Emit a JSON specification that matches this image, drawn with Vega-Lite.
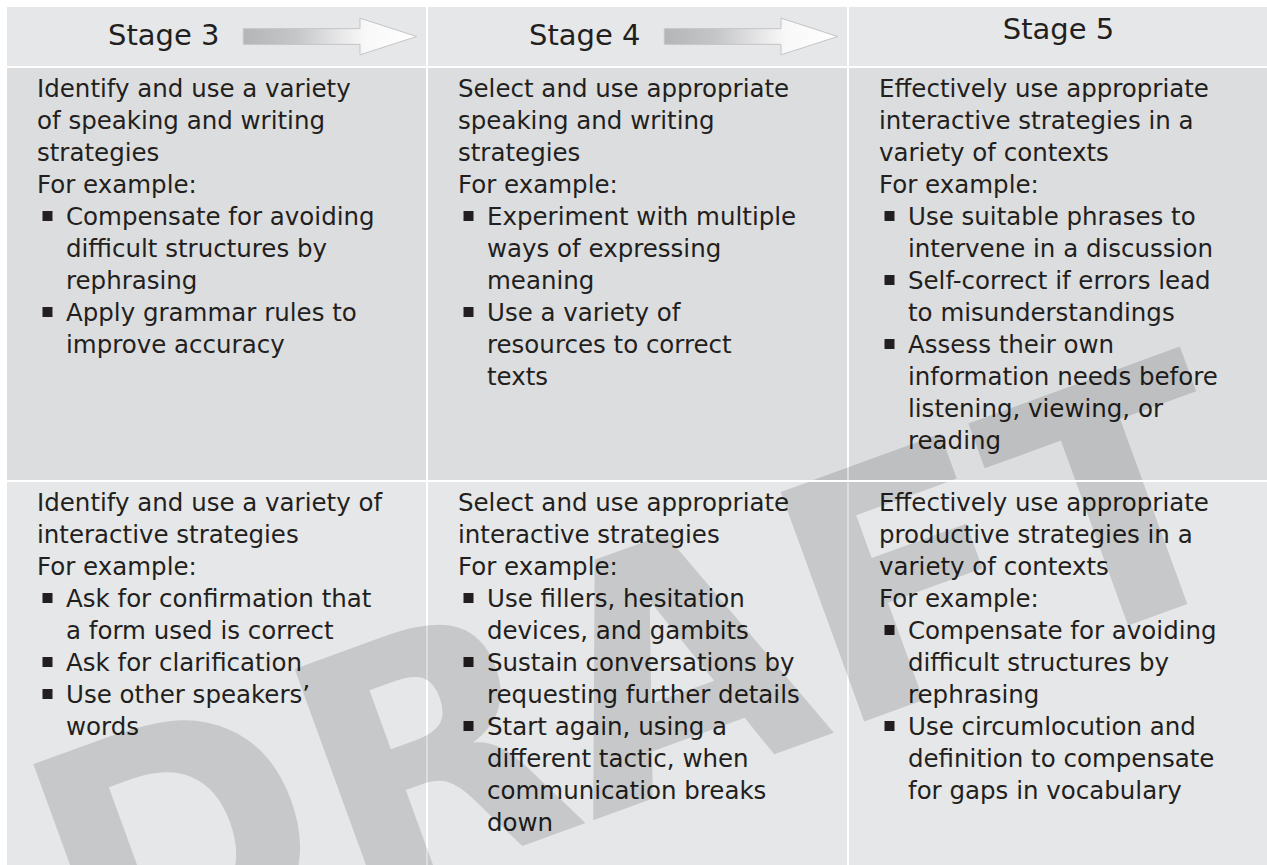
{
  "$schema": "https://vega.github.io/schema/vega-lite/v6.json",
  "background": "white",
  "padding": {"left": 7, "top": 7, "right": 0, "bottom": 0},
  "spacing": 2,
  "bounds": "flush",
  "config": {"view": {"stroke": null}, "font": "DejaVu Sans"},
  "datasets": {
    "stages": [
      {"stage": "Stage 3", "arrow": true},
      {"stage": "Stage 4", "arrow": true},
      {"stage": "Stage 5", "arrow": false}
    ],
    "lines": [
      {"stage": "Stage 3", "row": 1, "line": 0, "kind": "lead", "text": "Identify and use a variety"},
      {"stage": "Stage 3", "row": 1, "line": 1, "kind": "lead", "text": "of speaking and writing"},
      {"stage": "Stage 3", "row": 1, "line": 2, "kind": "lead", "text": "strategies"},
      {"stage": "Stage 3", "row": 1, "line": 3, "kind": "lead", "text": "For example:"},
      {"stage": "Stage 3", "row": 1, "line": 4, "kind": "bullet", "text": "Compensate for avoiding"},
      {"stage": "Stage 3", "row": 1, "line": 5, "kind": "cont", "text": "difficult structures by"},
      {"stage": "Stage 3", "row": 1, "line": 6, "kind": "cont", "text": "rephrasing"},
      {"stage": "Stage 3", "row": 1, "line": 7, "kind": "bullet", "text": "Apply grammar rules to"},
      {"stage": "Stage 3", "row": 1, "line": 8, "kind": "cont", "text": "improve accuracy"},
      {"stage": "Stage 4", "row": 1, "line": 0, "kind": "lead", "text": "Select and use appropriate"},
      {"stage": "Stage 4", "row": 1, "line": 1, "kind": "lead", "text": "speaking and writing"},
      {"stage": "Stage 4", "row": 1, "line": 2, "kind": "lead", "text": "strategies"},
      {"stage": "Stage 4", "row": 1, "line": 3, "kind": "lead", "text": "For example:"},
      {"stage": "Stage 4", "row": 1, "line": 4, "kind": "bullet", "text": "Experiment with multiple"},
      {"stage": "Stage 4", "row": 1, "line": 5, "kind": "cont", "text": "ways of expressing"},
      {"stage": "Stage 4", "row": 1, "line": 6, "kind": "cont", "text": "meaning"},
      {"stage": "Stage 4", "row": 1, "line": 7, "kind": "bullet", "text": "Use a variety of"},
      {"stage": "Stage 4", "row": 1, "line": 8, "kind": "cont", "text": "resources to correct"},
      {"stage": "Stage 4", "row": 1, "line": 9, "kind": "cont", "text": "texts"},
      {"stage": "Stage 5", "row": 1, "line": 0, "kind": "lead", "text": "Effectively use appropriate"},
      {"stage": "Stage 5", "row": 1, "line": 1, "kind": "lead", "text": "interactive strategies in a"},
      {"stage": "Stage 5", "row": 1, "line": 2, "kind": "lead", "text": "variety of contexts"},
      {"stage": "Stage 5", "row": 1, "line": 3, "kind": "lead", "text": "For example:"},
      {"stage": "Stage 5", "row": 1, "line": 4, "kind": "bullet", "text": "Use suitable phrases to"},
      {"stage": "Stage 5", "row": 1, "line": 5, "kind": "cont", "text": "intervene in a discussion"},
      {"stage": "Stage 5", "row": 1, "line": 6, "kind": "bullet", "text": "Self-correct if errors lead"},
      {"stage": "Stage 5", "row": 1, "line": 7, "kind": "cont", "text": "to misunderstandings"},
      {"stage": "Stage 5", "row": 1, "line": 8, "kind": "bullet", "text": "Assess their own"},
      {"stage": "Stage 5", "row": 1, "line": 9, "kind": "cont", "text": "information needs before"},
      {"stage": "Stage 5", "row": 1, "line": 10, "kind": "cont", "text": "listening, viewing, or"},
      {"stage": "Stage 5", "row": 1, "line": 11, "kind": "cont", "text": "reading"},
      {"stage": "Stage 3", "row": 2, "line": 0, "kind": "lead", "text": "Identify and use a variety of"},
      {"stage": "Stage 3", "row": 2, "line": 1, "kind": "lead", "text": "interactive strategies"},
      {"stage": "Stage 3", "row": 2, "line": 2, "kind": "lead", "text": "For example:"},
      {"stage": "Stage 3", "row": 2, "line": 3, "kind": "bullet", "text": "Ask for confirmation that"},
      {"stage": "Stage 3", "row": 2, "line": 4, "kind": "cont", "text": "a form used is correct"},
      {"stage": "Stage 3", "row": 2, "line": 5, "kind": "bullet", "text": "Ask for clarification"},
      {"stage": "Stage 3", "row": 2, "line": 6, "kind": "bullet", "text": "Use other speakers’"},
      {"stage": "Stage 3", "row": 2, "line": 7, "kind": "cont", "text": "words"},
      {"stage": "Stage 4", "row": 2, "line": 0, "kind": "lead", "text": "Select and use appropriate"},
      {"stage": "Stage 4", "row": 2, "line": 1, "kind": "lead", "text": "interactive strategies"},
      {"stage": "Stage 4", "row": 2, "line": 2, "kind": "lead", "text": "For example:"},
      {"stage": "Stage 4", "row": 2, "line": 3, "kind": "bullet", "text": "Use fillers, hesitation"},
      {"stage": "Stage 4", "row": 2, "line": 4, "kind": "cont", "text": "devices, and gambits"},
      {"stage": "Stage 4", "row": 2, "line": 5, "kind": "bullet", "text": "Sustain conversations by"},
      {"stage": "Stage 4", "row": 2, "line": 6, "kind": "cont", "text": "requesting further details"},
      {"stage": "Stage 4", "row": 2, "line": 7, "kind": "bullet", "text": "Start again, using a"},
      {"stage": "Stage 4", "row": 2, "line": 8, "kind": "cont", "text": "different tactic, when"},
      {"stage": "Stage 4", "row": 2, "line": 9, "kind": "cont", "text": "communication breaks"},
      {"stage": "Stage 4", "row": 2, "line": 10, "kind": "cont", "text": "down"},
      {"stage": "Stage 5", "row": 2, "line": 0, "kind": "lead", "text": "Effectively use appropriate"},
      {"stage": "Stage 5", "row": 2, "line": 1, "kind": "lead", "text": "productive strategies in a"},
      {"stage": "Stage 5", "row": 2, "line": 2, "kind": "lead", "text": "variety of contexts"},
      {"stage": "Stage 5", "row": 2, "line": 3, "kind": "lead", "text": "For example:"},
      {"stage": "Stage 5", "row": 2, "line": 4, "kind": "bullet", "text": "Compensate for avoiding"},
      {"stage": "Stage 5", "row": 2, "line": 5, "kind": "cont", "text": "difficult structures by"},
      {"stage": "Stage 5", "row": 2, "line": 6, "kind": "cont", "text": "rephrasing"},
      {"stage": "Stage 5", "row": 2, "line": 7, "kind": "bullet", "text": "Use circumlocution and"},
      {"stage": "Stage 5", "row": 2, "line": 8, "kind": "cont", "text": "definition to compensate"},
      {"stage": "Stage 5", "row": 2, "line": 9, "kind": "cont", "text": "for gaps in vocabulary"}
    ]
  },
  "vconcat": [
    {
      "width": 1261,
      "height": 59,
      "data": {"name": "stages"},
      "layer": [
        {
          "mark": {"type": "rect", "fill": "#e6e7e8"},
          "encoding": {"x": {"field": "stage", "type": "nominal", "scale": {"domain": ["Stage 3", "Stage 4", "Stage 5"], "paddingInner": 0.00475, "paddingOuter": 0}, "axis": null}}
        },
        {
          "transform": [{"filter": "datum.arrow"}],
          "mark": {
            "type": "point",
            "shape": "M-1,-0.0905L0.346,-0.0905L0.346,-0.2116L1,0L0.346,0.2116L0.346,0.0905L-1,0.0905Z",
            "size": 30068,
            "filled": true,
            "opacity": 1,
            "fill": {"gradient": "linear", "x1": 0, "y1": 0, "x2": 1, "y2": 0, "stops": [
              {"offset": 0, "color": "#b4b5b7"},
              {"offset": 0.3, "color": "#c5c6c8"},
              {"offset": 0.55, "color": "#e6e6e7"},
              {"offset": 0.7, "color": "#f8f8f8"},
              {"offset": 1, "color": "#ffffff"}
            ]},
            "stroke": "#c4c5c7",
            "strokeWidth": 1,
            "xOffset": 323
          },
          "encoding": {"x": {"field": "stage", "type": "nominal", "bandPosition": 0, "scale": {"domain": ["Stage 3", "Stage 4", "Stage 5"], "paddingInner": 0.00475, "paddingOuter": 0}, "axis": null}}
        },
        {
          "transform": [{"filter": "datum.arrow"}],
          "mark": {"type": "text", "align": "left", "baseline": "alphabetic", "fontSize": 29, "fill": "#231f20", "dx": 101, "dy": 8.5},
          "encoding": {
            "x": {"field": "stage", "type": "nominal", "bandPosition": 0, "scale": {"domain": ["Stage 3", "Stage 4", "Stage 5"], "paddingInner": 0.00475, "paddingOuter": 0}, "axis": null},
            "text": {"field": "stage"}
          }
        },
        {
          "transform": [{"filter": "!datum.arrow"}],
          "mark": {"type": "text", "align": "center", "baseline": "alphabetic", "fontSize": 29, "fill": "#231f20", "dy": 2.5},
          "encoding": {
            "x": {"field": "stage", "type": "nominal", "bandPosition": 0.5, "scale": {"domain": ["Stage 3", "Stage 4", "Stage 5"], "paddingInner": 0.00475, "paddingOuter": 0}, "axis": null},
            "text": {"field": "stage"}
          }
        }
      ]
    },
    {
      "width": 1261,
      "height": 412,
      "layer": [
        {
          "data": {"name": "stages"},
          "mark": {"type": "rect", "fill": "#dcdddf"},
          "encoding": {"x": {"field": "stage", "type": "nominal", "scale": {"domain": ["Stage 3", "Stage 4", "Stage 5"], "paddingInner": 0.00475, "paddingOuter": 0}, "axis": null}}
        },
        {
          "data": {"name": "lines"},
          "transform": [{"filter": "datum.row == 1 && datum.kind == 'lead'"}],
          "mark": {"type": "text", "align": "left", "baseline": "alphabetic", "fontSize": 24.5, "fill": "#231f20", "dx": 30},
          "encoding": {
            "x": {"field": "stage", "type": "nominal", "bandPosition": 0, "scale": {"domain": ["Stage 3", "Stage 4", "Stage 5"], "paddingInner": 0.00475, "paddingOuter": 0}, "axis": null},
            "y": {"field": "line", "type": "quantitative", "scale": {"domain": [-0.90625, 11.96875], "reverse": true, "nice": false, "zero": false}, "axis": null},
            "text": {"field": "text"}
          }
        },
        {
          "data": {"name": "lines"},
          "transform": [{"filter": "datum.row == 1 && datum.kind != 'lead'"}],
          "mark": {"type": "text", "align": "left", "baseline": "alphabetic", "fontSize": 24.5, "fill": "#231f20", "dx": 59},
          "encoding": {
            "x": {"field": "stage", "type": "nominal", "bandPosition": 0, "scale": {"domain": ["Stage 3", "Stage 4", "Stage 5"], "paddingInner": 0.00475, "paddingOuter": 0}, "axis": null},
            "y": {"field": "line", "type": "quantitative", "scale": {"domain": [-0.90625, 11.96875], "reverse": true, "nice": false, "zero": false}, "axis": null},
            "text": {"field": "text"}
          }
        },
        {
          "data": {"name": "lines"},
          "transform": [{"filter": "datum.row == 1 && datum.kind == 'bullet'"}],
          "mark": {"type": "point", "shape": "square", "size": 100, "filled": true, "opacity": 1, "fill": "#231f20", "strokeWidth": 0, "xOffset": 40.5, "yOffset": -9},
          "encoding": {
            "x": {"field": "stage", "type": "nominal", "bandPosition": 0, "scale": {"domain": ["Stage 3", "Stage 4", "Stage 5"], "paddingInner": 0.00475, "paddingOuter": 0}, "axis": null},
            "y": {"field": "line", "type": "quantitative", "scale": {"domain": [-0.90625, 11.96875], "reverse": true, "nice": false, "zero": false}, "axis": null}
          }
        },
        {
          "data": {"values": [{"label": "DRAFT"}]},
          "mark": {"type": "text", "align": "center", "baseline": "middle", "fontSize": 335, "fontWeight": "bold", "angle": -20, "fill": "#000000", "opacity": 0.13, "clip": true, "xOffset": 4.5},
          "encoding": {
            "x": {"datum": "Stage 4", "type": "nominal", "bandPosition": 0.5, "scale": {"domain": ["Stage 3", "Stage 4", "Stage 5"], "paddingInner": 0.00475, "paddingOuter": 0}, "axis": null},
            "y": {"datum": 18.68, "type": "quantitative", "scale": {"domain": [-0.90625, 11.96875], "reverse": true, "nice": false, "zero": false}, "axis": null},
            "text": {"field": "label"}
          }
        }
      ]
    },
    {
      "width": 1261,
      "height": 383,
      "layer": [
        {
          "data": {"name": "stages"},
          "mark": {"type": "rect", "fill": "#e6e7e8"},
          "encoding": {"x": {"field": "stage", "type": "nominal", "scale": {"domain": ["Stage 3", "Stage 4", "Stage 5"], "paddingInner": 0.00475, "paddingOuter": 0}, "axis": null}}
        },
        {
          "data": {"name": "lines"},
          "transform": [{"filter": "datum.row == 2 && datum.kind == 'lead'"}],
          "mark": {"type": "text", "align": "left", "baseline": "alphabetic", "fontSize": 24.5, "fill": "#231f20", "dx": 30},
          "encoding": {
            "x": {"field": "stage", "type": "nominal", "bandPosition": 0, "scale": {"domain": ["Stage 3", "Stage 4", "Stage 5"], "paddingInner": 0.00475, "paddingOuter": 0}, "axis": null},
            "y": {"field": "line", "type": "quantitative", "scale": {"domain": [-0.90625, 11.0625], "reverse": true, "nice": false, "zero": false}, "axis": null},
            "text": {"field": "text"}
          }
        },
        {
          "data": {"name": "lines"},
          "transform": [{"filter": "datum.row == 2 && datum.kind != 'lead'"}],
          "mark": {"type": "text", "align": "left", "baseline": "alphabetic", "fontSize": 24.5, "fill": "#231f20", "dx": 59},
          "encoding": {
            "x": {"field": "stage", "type": "nominal", "bandPosition": 0, "scale": {"domain": ["Stage 3", "Stage 4", "Stage 5"], "paddingInner": 0.00475, "paddingOuter": 0}, "axis": null},
            "y": {"field": "line", "type": "quantitative", "scale": {"domain": [-0.90625, 11.0625], "reverse": true, "nice": false, "zero": false}, "axis": null},
            "text": {"field": "text"}
          }
        },
        {
          "data": {"name": "lines"},
          "transform": [{"filter": "datum.row == 2 && datum.kind == 'bullet'"}],
          "mark": {"type": "point", "shape": "square", "size": 100, "filled": true, "opacity": 1, "fill": "#231f20", "strokeWidth": 0, "xOffset": 40.5, "yOffset": -9},
          "encoding": {
            "x": {"field": "stage", "type": "nominal", "bandPosition": 0, "scale": {"domain": ["Stage 3", "Stage 4", "Stage 5"], "paddingInner": 0.00475, "paddingOuter": 0}, "axis": null},
            "y": {"field": "line", "type": "quantitative", "scale": {"domain": [-0.90625, 11.0625], "reverse": true, "nice": false, "zero": false}, "axis": null}
          }
        },
        {
          "data": {"values": [{"label": "DRAFT"}]},
          "mark": {"type": "text", "align": "center", "baseline": "middle", "fontSize": 335, "fontWeight": "bold", "angle": -20, "fill": "#000000", "opacity": 0.13, "clip": true, "xOffset": 4.5},
          "encoding": {
            "x": {"datum": "Stage 4", "type": "nominal", "bandPosition": 0.5, "scale": {"domain": ["Stage 3", "Stage 4", "Stage 5"], "paddingInner": 0.00475, "paddingOuter": 0}, "axis": null},
            "y": {"datum": 5.75, "type": "quantitative", "scale": {"domain": [-0.90625, 11.0625], "reverse": true, "nice": false, "zero": false}, "axis": null},
            "text": {"field": "label"}
          }
        }
      ]
    }
  ]
}
